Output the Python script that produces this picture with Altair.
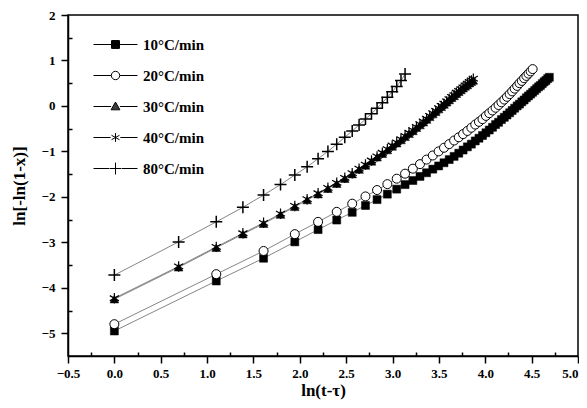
import altair as alt
import pandas as pd

series_names = ["10°C/min", "20°C/min", "30°C/min", "40°C/min", "80°C/min"]

# ln(t) for odd t = 1, 3, ..., 109
x_odd = [0.000, 1.099, 1.609, 1.946, 2.197, 2.398, 2.565, 2.708, 2.833, 2.944,
         3.045, 3.135, 3.219, 3.296, 3.367, 3.434, 3.497, 3.555, 3.611, 3.664,
         3.714, 3.761, 3.807, 3.850, 3.892, 3.932, 3.970, 4.007, 4.043, 4.078,
         4.111, 4.143, 4.174, 4.205, 4.234, 4.263, 4.290, 4.317, 4.344, 4.369,
         4.394, 4.419, 4.443, 4.466, 4.489, 4.511, 4.533, 4.554, 4.575, 4.595,
         4.615, 4.635, 4.654, 4.673, 4.691]
# ln(t) for t = 1, 2, ..., 48
x_int = [0.000, 0.693, 1.099, 1.386, 1.609, 1.792, 1.946, 2.079, 2.197, 2.303,
         2.398, 2.485, 2.565, 2.639, 2.708, 2.773, 2.833, 2.890, 2.944, 2.996,
         3.045, 3.091, 3.135, 3.178, 3.219, 3.258, 3.296, 3.332, 3.367, 3.401,
         3.434, 3.466, 3.497, 3.526, 3.555, 3.584, 3.611, 3.638, 3.664, 3.689,
         3.714, 3.738, 3.761, 3.784, 3.807, 3.829, 3.850, 3.871]

y10 = [-4.95, -3.85, -3.35, -2.99, -2.72, -2.51, -2.34, -2.19, -2.06, -1.94,
       -1.83, -1.73, -1.64, -1.55, -1.47, -1.39, -1.32, -1.25, -1.18, -1.11,
       -1.04, -0.97, -0.90, -0.84, -0.77, -0.71, -0.65, -0.59, -0.53, -0.47,
       -0.41, -0.36, -0.30, -0.25, -0.20, -0.15, -0.10, -0.05, 0.00, 0.04,
       0.09, 0.13, 0.18, 0.22, 0.26, 0.30, 0.34, 0.38, 0.42, 0.45,
       0.49, 0.53, 0.56, 0.60, 0.63]
y20 = [-4.80, -3.70, -3.19, -2.82, -2.55, -2.33, -2.15, -1.99, -1.85, -1.72,
       -1.60, -1.49, -1.38, -1.28, -1.18, -1.09, -1.00, -0.92, -0.84, -0.76,
       -0.69, -0.62, -0.55, -0.48, -0.41, -0.35, -0.29, -0.22, -0.16, -0.10,
       -0.04, 0.02, 0.08, 0.14, 0.20, 0.26, 0.32, 0.38, 0.44, 0.50,
       0.55, 0.61, 0.66, 0.71, 0.76, 0.81]
y30 = [-4.25, -3.55, -3.12, -2.82, -2.59, -2.39, -2.22, -2.07, -1.94, -1.82,
       -1.71, -1.60, -1.50, -1.40, -1.31, -1.22, -1.13, -1.05, -0.97, -0.89,
       -0.82, -0.75, -0.68, -0.61, -0.55, -0.48, -0.42, -0.36, -0.30, -0.24,
       -0.18, -0.13, -0.07, -0.02, 0.03, 0.08, 0.13, 0.18, 0.22, 0.27,
       0.31, 0.35, 0.39, 0.43, 0.46, 0.50, 0.53, 0.56]
y40 = [-4.23, -3.53, -3.10, -2.80, -2.57, -2.37, -2.20, -2.05, -1.92, -1.80,
       -1.69, -1.58, -1.48, -1.38, -1.29, -1.20, -1.11, -1.03, -0.95, -0.87,
       -0.80, -0.73, -0.66, -0.59, -0.53, -0.46, -0.40, -0.34, -0.28, -0.22,
       -0.16, -0.11, -0.05, 0.00, 0.05, 0.10, 0.15, 0.20, 0.24, 0.29,
       0.33, 0.37, 0.41, 0.45, 0.49, 0.53, 0.56, 0.60]
y80 = [-3.72, -2.99, -2.55, -2.23, -1.96, -1.73, -1.52, -1.34, -1.16, -1.00,
       -0.84, -0.69, -0.55, -0.42, -0.29, -0.17, -0.05, 0.07, 0.19, 0.31,
       0.43, 0.56, 0.70]

x_ticks = [-0.5, 0.0, 0.5, 1.0, 1.5, 2.0, 2.5, 3.0, 3.5, 4.0, 4.5, 5.0]
x_minor = [-0.25, 0.25, 0.75, 1.25, 1.75, 2.25, 2.75, 3.25, 3.75, 4.25, 4.75]
y_ticks = [-5, -4, -3, -2, -1, 0, 1, 2]
y_minor = [-4.5, -3.5, -2.5, -1.5, -0.5, 0.5, 1.5]

rows = []
for name, xs, ys in [
    (series_names[0], x_odd, y10),
    (series_names[1], x_odd, y20),
    (series_names[2], x_int, y30),
    (series_names[3], x_int, y40),
    (series_names[4], x_int, y80),
]:
    for xv, yv in zip(xs, ys):
        rows.append({"series": name, "x": xv, "y": yv})
df = pd.DataFrame(rows)

FONT = "Liberation Serif"
xscale = alt.Scale(domain=[-0.5, 5.0], nice=False, zero=False)
yscale = alt.Scale(domain=[-5.5, 2.0], nice=False, zero=False)

major_x = alt.Axis(orient="bottom", values=x_ticks, format=".1f", tickSize=7, tickWidth=1.5,
                   tickColor="black", domainColor="black", domainWidth=1.5,
                   labelFont=FONT, labelFontWeight="bold", labelFontSize=13, labelColor="black",
                   labelAlign={"condition": {"test": "datum.value >= 5", "value": "right"},
                               "value": "center"},
                   labelPadding=4, labelFlush=False, labelOverlap=False, grid=False,
                   title="ln(t-τ)", titleFont=FONT, titleFontWeight="bold", titleFontSize=17,
                   titleColor="black", titlePadding=2)
major_y = alt.Axis(orient="left", values=y_ticks, format="d", tickSize=7, tickWidth=1.5,
                   tickColor="black", domainColor="black", domainWidth=1.5,
                   labelFont=FONT, labelFontWeight="bold", labelFontSize=13, labelColor="black",
                   labelPadding=6, labelFlush=False, labelOverlap=False, grid=False,
                   title="ln[-ln(1-x)]", titleFont=FONT, titleFontWeight="bold", titleFontSize=17,
                   titleColor="black", titlePadding=13)
minor_x = alt.Axis(orient="bottom", values=x_minor, tickSize=4, tickWidth=1.5, tickColor="black",
                   offset=-4, domain=False, labels=False, grid=False, title=None)
minor_y = alt.Axis(orient="left", values=y_minor, tickSize=4, tickWidth=1.5, tickColor="black",
                   offset=-4, domain=False, labels=False, grid=False, title=None)

base = alt.Chart(df)

lines = base.mark_line(color="#666666", strokeWidth=0.8).encode(
    x=alt.X("x:Q", scale=xscale, axis=major_x),
    y=alt.Y("y:Q", scale=yscale, axis=major_y),
    detail="series:N",
)

ASTER = "M0,-1V1M-0.87,-0.5L0.87,0.5M-0.87,0.5L0.87,-0.5"
PLUS = "M-1,0H1M0,-1V1"

def pts(name, **mk):
    return base.transform_filter(alt.datum.series == name).mark_point(opacity=1, **mk).encode(
        x=alt.X("x:Q", scale=xscale, axis=None),
        y=alt.Y("y:Q", scale=yscale, axis=None),
    )

p10 = pts(series_names[0], shape="square", filled=True, fill="black", stroke="black", strokeWidth=0.5, size=64)
p20 = pts(series_names[1], shape="circle", filled=True, fill="white", stroke="black", strokeWidth=1, size=81)
p40 = pts(series_names[3], shape=ASTER, filled=False, stroke="black", strokeWidth=1.2, size=110)
p30 = pts(series_names[2], shape="triangle-up", filled=True, fill="black", stroke="black", strokeWidth=0.5, size=75)
p80 = pts(series_names[4], shape=PLUS, filled=False, stroke="black", strokeWidth=1.5, size=144)

minor = base.transform_filter("false").mark_point(opacity=0).encode(
    x=alt.X("x:Q", scale=xscale, axis=minor_x),
    y=alt.Y("y:Q", scale=yscale, axis=minor_y),
)

# legend glyphs (line segment + marker), stroke-only; filled markers are hatched solid
SQ_FILL = "".join(f"M-0.18,{v}H0.18" for v in ["-0.135", "-0.09", "-0.045", "0", "0.045", "0.09", "0.135"])
TRI_FILL = ("M-0.026,-0.155H0.026M-0.051,-0.11H0.051M-0.077,-0.065H0.077M-0.103,-0.02H0.103"
            "M-0.129,0.025H0.129M-0.154,0.07H0.154M-0.18,0.115H0.18")
legend_paths = [
    "M-1,0H-0.18M0.18,0H1M-0.18,-0.18H0.18V0.18H-0.18Z" + SQ_FILL,
    "M-1,0H-0.2M0.2,0H1M-0.19,0A0.19,0.19 0 1,1 0.19,0A0.19,0.19 0 1,1 -0.19,0Z",
    "M-1,0H-0.2M0.2,0H1M0,-0.2L0.2,0.15H-0.2Z" + TRI_FILL,
    "M-1,0H-0.22M0.22,0H1M0,-0.2V0.2M-0.18,-0.1L0.18,0.1M-0.18,0.1L0.18,-0.1",
    "M-1,0H-0.28M0.28,0H1M-0.26,0H0.26M0,-0.27V0.27",
]

legend_layer = base.transform_filter("false").mark_point(
    opacity=1, filled=False, color="black", strokeWidth=1
).encode(
    x=alt.X("x:Q", scale=xscale, axis=None),
    y=alt.Y("y:Q", scale=yscale, axis=None),
    shape=alt.Shape("series:N", scale=alt.Scale(domain=series_names, range=legend_paths),
                    legend=alt.Legend(orient="none", legendX=25, legendY=7, title=None,
                                      symbolSize=1936, symbolStrokeWidth=1,
                                      symbolStrokeColor="black", symbolOpacity=1,
                                      labelFont=FONT, labelFontWeight="bold", labelFontSize=15,
                                      labelColor="black", labelOffset=5, rowPadding=-4.2,
                                      padding=0)),
)

chart = alt.layer(lines, p10, p20, p40, p30, p80, minor, legend_layer).resolve_axis(
    x="independent", y="independent"
).properties(
    width=510, height=341,
    padding={"left": 60, "top": 7, "right": 1, "bottom": 44},
    autosize=alt.AutoSizeParams(type="none"),
).configure_view(stroke="black", strokeWidth=1.5)

chart.save("out.html", embed_options={"renderer": "svg", "actions": False})
